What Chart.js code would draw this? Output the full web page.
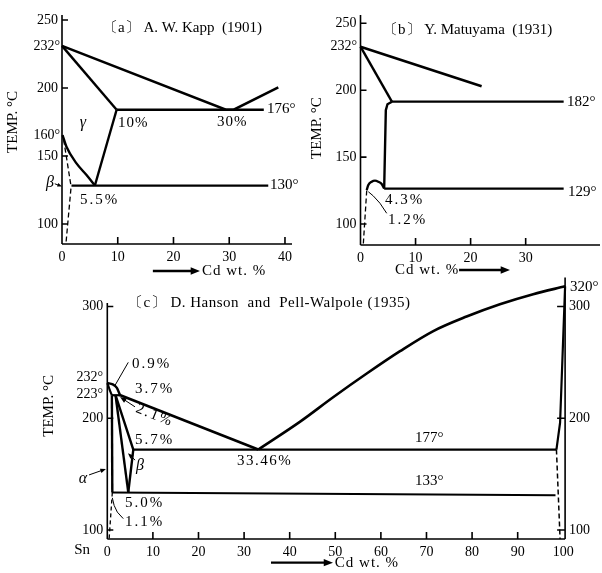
<!DOCTYPE html>
<html>
<head>
<meta charset="utf-8">
<script src="https://cdn.jsdelivr.net/npm/chart.js@4.4.1/dist/chart.umd.min.js"></script>
<style>
  html, body { margin: 0; padding: 0; background: #fff; }
  body { width: 602px; height: 573px; position: relative; overflow: hidden; }
  canvas { position: absolute; }
</style>
</head>
<body>
<canvas id="kappChart" width="300" height="285" style="left:0;top:0"></canvas>
<canvas id="matuChart" width="302" height="285" style="left:300px;top:0"></canvas>
<canvas id="hansonChart" width="602" height="308" style="left:0;top:265px"></canvas>
<script>
// Sn-Cd phase diagrams from three papers. Every point is [Cd wt.%, temp in °C]

// (a) A. W. Kapp (1901)
const kappXTicks = [0, 10, 20, 30, 40];
const kappYTicks = [100, 150, 200, 250];
const kappLiquidus = [[0, 231], [29.4, 184], [30.8, 184], [38.8, 200.5]];
const kappGammaTop = [[0, 231], [9.8, 184]];
const kappGammaRight = [[5.9, 128.3], [9.8, 184]];
const kappPeritectic = [[9.8, 184], [36.2, 184]];
const kappSolvus = [[0.1, 165.4], [0.8, 156.8], [2.6, 144.6], [4.4, 136], [5.9, 128.3]];
const kappEutectoid = [[1.7, 128.3], [37, 128.3]];
const kappDashUpper = [[0.3, 162], [1.6, 128.3]];
const kappDashLower = [[1.6, 126], [0.7, 85.3]];

// (b) Y. Matuyama (1931)
const matuXTicks = [0, 10, 20, 30];
const matuYTicks = [100, 150, 200, 250];
const matuLiquidus = [[0, 232.5], [22, 203]];
const matuGammaTop = [[0, 232.5], [5.7, 191.4]];
const matuGammaLeft = [[5.7, 191.4], [4.9, 189.5], [4.6, 185], [4.3, 126.5]];
const matuPeritectic = [[5.7, 191.4], [36.9, 191.4]];
const matuEutectoid = [[4.3, 126.5], [36.9, 126.5]];
const matuLoop = [[1.13, 125.4], [1.42, 129.1], [2.03, 131.6], [2.63, 132.4], [3.23, 131.6], [3.85, 129.9], [4.3, 126.5]];
const matuDash = [[1.13, 125], [0.5, 84.3]];

// (c) D. Hanson and Pell-Walpole (1935)
const hansonXTicks = [0, 10, 20, 30, 40, 50, 60, 70, 80, 90, 100];
const hansonYTicks = [100, 200, 300];
const hansonLens = [[0, 231.5], [1.2, 230.3], [2.1, 227.2], [2.6, 222.5], [2.8, 220.6]];
const hansonLiquidusSn = [[2.6, 221], [33.1, 172]];
const hansonLiquidusCd = [[33.1, 172], [42.3, 197], [49.6, 219], [56.9, 240], [64.2, 260], [71.5, 278], [78.8, 291], [86.1, 302], [93.4, 311], [100.4, 318]];
const hansonSolidusSn = [[0, 231.5], [0.35, 227.5], [0.7, 223.5], [1.0, 220.6]];
const hansonPeritectic = [[1.0, 220.6], [2.8, 220.6]];
const hansonAlphaSolvus = [[1.0, 220.6], [1.1, 133.6]];
const hansonAlphaDash = [[1.1, 133.6], [0.4, 92]];
const hansonBetaLeft = [[1.8, 220.6], [4.6, 133.6]];
const hansonBetaRight = [[1.8, 220.6], [5.7, 172], [4.6, 133.6]];
const hansonEutectic = [[5.7, 172], [98.5, 172]];
const hansonEutectoid = [[1.0, 133.6], [98.3, 131.2]];
const hansonSolidusCd = [[98.5, 172], [99.3, 196], [100.4, 318]];
const hansonSolvusCd = [[98.5, 172], [99.3, 92]];

const SERIF = '"Liberation Serif", "DejaVu Serif", serif';
const TXT = '15px ' + SERIF;
const GREEK = 'italic 16px ' + SERIF;

function seg(points, width, dash, smooth) {
    return {
        data: points.map(([x, y]) => ({ x, y })),
        showLine: true,
        borderColor: '#000',
        borderWidth: width,
        borderDash: dash || [],
        pointRadius: 0,
        fill: false,
        clip: false,
        tension: smooth ? 0.4 : 0,
        cubicInterpolationMode: smooth ? 'monotone' : 'default'
    };
}

function axis(min, max, ticks, size, extra) {
    const horizontal = !extra || !extra.position || extra.position === 'bottom';
    return Object.assign({
        type: 'linear',
        min: min,
        max: max,
        afterBuildTicks: s => { s.ticks = ticks.map(v => ({ value: v })); },
        afterFit: s => { if (horizontal) s.height = size; else s.width = size; },
        grid: { display: false, drawTicks: false },
        border: { display: false },
        ticks: {
            color: '#000',
            font: { family: SERIF, size: 14 },
            padding: horizontal ? 5 : 4,
            autoSkip: false,
            maxRotation: 0
        }
    }, extra || {});
}

// draws axis lines, inward tick marks, leaders, arrows and labels
function sketch(o) {
    return {
        id: 'sketch',
        afterDraw(chart) {
            const ctx = chart.ctx;
            const sx = chart.scales.x, sy = chart.scales.y;
            const X = v => sx.getPixelForValue(v);
            const Y = v => sy.getPixelForValue(v);
            ctx.save();
            ctx.strokeStyle = '#000';
            ctx.fillStyle = '#000';

            ctx.lineWidth = 1.6;
            ctx.beginPath();
            ctx.moveTo(X(sx.min), Y(o.leftAxis[0]));
            ctx.lineTo(X(sx.min), Y(o.leftAxis[1]));
            ctx.moveTo(X(o.baseAxis[0]), Y(sy.min));
            ctx.lineTo(X(o.baseAxis[1]), Y(sy.min));
            if (o.rightAxis) {
                ctx.moveTo(X(sx.max), Y(o.rightAxis[0]));
                ctx.lineTo(X(sx.max), Y(o.rightAxis[1]));
            }
            o.xMarks.forEach(v => { ctx.moveTo(X(v), Y(sy.min)); ctx.lineTo(X(v), Y(sy.min) - 7); });
            o.yMarks.forEach(v => { ctx.moveTo(X(sx.min), Y(v)); ctx.lineTo(X(sx.min) + 6, Y(v)); });
            (o.rMarks || []).forEach(v => { ctx.moveTo(X(sx.max), Y(v)); ctx.lineTo(X(sx.max) - 8, Y(v)); });
            ctx.stroke();

            ctx.lineWidth = 1;
            (o.leaders || []).forEach(pts => {
                ctx.beginPath();
                pts.forEach(([x, y], i) => i ? ctx.lineTo(X(x), Y(y)) : ctx.moveTo(X(x), Y(y)));
                ctx.stroke();
            });

            (o.arrows || []).forEach(a => {
                const x1 = X(a.from[0]), y1 = Y(a.from[1]), x2 = X(a.to[0]), y2 = Y(a.to[1]);
                const ang = Math.atan2(y2 - y1, x2 - x1), h = a.head || 6;
                ctx.lineWidth = a.w || 1;
                ctx.beginPath();
                ctx.moveTo(x1, y1);
                ctx.lineTo(x2 - Math.cos(ang) * h * 0.6, y2 - Math.sin(ang) * h * 0.6);
                ctx.stroke();
                ctx.beginPath();
                ctx.moveTo(x2, y2);
                ctx.lineTo(x2 - h * Math.cos(ang - 0.38), y2 - h * Math.sin(ang - 0.38));
                ctx.lineTo(x2 - h * Math.cos(ang + 0.38), y2 - h * Math.sin(ang + 0.38));
                ctx.closePath();
                ctx.fill();
            });

            ctx.textBaseline = 'middle';
            (o.texts || []).forEach(t => {
                ctx.save();
                ctx.font = t.font || TXT;
                ctx.textAlign = t.align || 'left';
                ctx.letterSpacing = t.ls || '0px';
                ctx.translate(X(t.x), Y(t.y));
                if (t.rot) ctx.rotate(t.rot * Math.PI / 180);
                ctx.fillText(t.text, 0, 0);
                ctx.restore();
            });
            ctx.restore();
        }
    };
}

const baseOptions = {
    responsive: false,
    animation: false,
    plugins: { legend: { display: false }, tooltip: { enabled: false } }
};

// (a)
new Chart(document.getElementById('kappChart'), {
    type: 'scatter',
    data: {
        datasets: [
            seg(kappLiquidus, 2.6),
            seg(kappGammaTop, 2.4),
            seg(kappGammaRight, 2.4),
            seg(kappPeritectic, 2.4),
            seg(kappSolvus, 2.4, null, true),
            seg(kappEutectoid, 2.2),
            seg(kappDashUpper, 1.3, [5, 3]),
            seg(kappDashLower, 1.3, [5, 3])
        ]
    },
    options: Object.assign({}, baseOptions, {
        layout: { padding: { left: 22, right: 8, top: 15, bottom: 16 } },
        scales: {
            x: axis(0, 41.26, kappXTicks, 25),
            y: axis(85.3, 253.7, kappYTicks, 40, { position: 'left' })
        }
    }),
    plugins: [sketch({
        leftAxis: [85.3, 253.7], baseAxis: [0, 41.26],
        xMarks: [10, 20, 30, 40], yMarks: kappYTicks,
        arrows: [
            { from: [-1.3, 129.6], to: [0, 127.6], head: 5 },
            { from: [16.3, 65.4], to: [24.75, 65.4], w: 2.4, head: 10 }
        ],
        texts: [
            { text: '〔a〕 A. W. Kapp  (1901)', x: 7.35, y: 244.1 },
            { text: '232°', x: -0.36, y: 230.4, align: 'right', font: '14px ' + SERIF },
            { text: '160°', x: -0.36, y: 165.4, align: 'right', font: '14px ' + SERIF },
            { text: 'β', x: -2.15, y: 130.1, align: 'center', font: GREEK },
            { text: 'γ', x: 3.77, y: 174.3, align: 'center', font: GREEK },
            { text: '10%', x: 10.04, y: 174.3, ls: '1px' },
            { text: '30%', x: 27.8, y: 175, ls: '1px' },
            { text: '176°', x: 36.77, y: 184.3 },
            { text: '130°', x: 37.3, y: 128.7 },
            { text: '5.5%', x: 3.23, y: 117.6, ls: '2px' },
            { text: 'TEMP. °C', x: -8.79, y: 175, align: 'center', rot: -90 },
            { text: 'Cd wt. %', x: 25.1, y: 65.4, ls: '1px' }
        ]
    })]
});

// (b)
new Chart(document.getElementById('matuChart'), {
    type: 'scatter',
    data: {
        datasets: [
            seg(matuLiquidus, 2.6),
            seg(matuGammaTop, 2.4),
            seg(matuGammaLeft, 2.4, null, false),
            seg(matuPeritectic, 2.2),
            seg(matuEutectoid, 2.2),
            seg(matuLoop, 2.4, null, true),
            seg(matuDash, 1.3, [5, 3])
        ]
    },
    options: Object.assign({}, baseOptions, {
        layout: { padding: { left: 20.5, right: 2, top: 15, bottom: 15 } },
        scales: {
            x: axis(0, 43.5, matuXTicks, 25),
            y: axis(84.3, 256.2, matuYTicks, 40, { position: 'left' })
        }
    }),
    plugins: [sketch({
        leftAxis: [84.3, 256.2], baseAxis: [0, 43.5],
        xMarks: [10, 20, 30], yMarks: matuYTicks,
        leaders: [[[4.76, 108], [3.54, 115.5], [2.32, 121], [1.42, 124.1]]],
        arrows: [
            { from: [17.9, 65.6], to: [27.15, 65.6], w: 2.4, head: 10 }
        ],
        texts: [
            { text: '〔b〕 Y. Matuyama  (1931)', x: 4.09, y: 245 },
            { text: '232°', x: -0.64, y: 232.5, align: 'right', font: '14px ' + SERIF },
            { text: '182°', x: 37.5, y: 191.4 },
            { text: '129°', x: 37.68, y: 124.1 },
            { text: '4.3%', x: 4.45, y: 117.9, ls: '2px' },
            { text: '1.2%', x: 4.99, y: 103, ls: '2px' },
            { text: 'TEMP. °C', x: -7.95, y: 171.7, align: 'center', rot: -90 },
            { text: 'Cd wt. %', x: 6.26, y: 65.6, ls: '1px' }
        ]
    })]
});

// (c)
new Chart(document.getElementById('hansonChart'), {
    type: 'scatter',
    data: {
        datasets: [
            seg(hansonLens, 2.4, null, true),
            seg(hansonLiquidusSn, 2.6),
            seg(hansonLiquidusCd, 2.6, null, true),
            seg(hansonSolidusSn, 2.2, null, true),
            seg(hansonPeritectic, 2.2),
            seg(hansonAlphaSolvus, 2.4),
            seg(hansonAlphaDash, 1.3, [4, 3]),
            seg(hansonBetaLeft, 2.4),
            seg(hansonBetaRight, 2.4),
            seg(hansonEutectic, 2.2),
            seg(hansonEutectoid, 2),
            seg(hansonSolidusCd, 2.2),
            seg(hansonSolvusCd, 1.5, [5, 3])
        ]
    },
    options: Object.assign({}, baseOptions, {
        layout: { padding: { left: 67.3, right: 2.9, top: 8.8, bottom: 9 } },
        scales: {
            x: axis(0, 100.4, hansonXTicks, 25),
            y: axis(91.97, 326, hansonYTicks, 40, { position: 'left' }),
            yr: axis(91.97, 326, hansonYTicks, 34, { position: 'right' })
        }
    }),
    plugins: [sketch({
        leftAxis: [91.97, 303], baseAxis: [0, 100.4], rightAxis: [91.97, 326],
        xMarks: [10, 20, 30, 40, 50, 60, 70, 80, 90], yMarks: hansonYTicks, rMarks: hansonYTicks,
        leaders: [
            [[4.6, 250], [1.69, 229.4]],
            [[3.5, 110.2], [2.2, 116], [1.5, 122], [1.1, 128.8]]
        ],
        arrows: [
            { from: [6.07, 210.2], to: [2.8, 219], head: 7 },
            { from: [6.1, 162.5], to: [4.54, 168.7], head: 6 },
            { from: [-4.0, 149.3], to: [-0.3, 154.6], head: 6 },
            { from: [35.9, 70.8], to: [49.5, 70.8], w: 2.4, head: 10 }
        ],
        texts: [
            { text: '〔c〕 D. Hanson  and  Pell-Walpole (1935)', x: 4.54, y: 303, ls: '0.5px' },
            { text: '232°', x: -0.94, y: 236.7, align: 'right', font: '14px ' + SERIF },
            { text: '223°', x: -0.94, y: 221.4, align: 'right', font: '14px ' + SERIF },
            { text: '0.9%', x: 5.42, y: 248.5, ls: '2px' },
            { text: '3.7%', x: 6.07, y: 226.4, ls: '2px' },
            { text: '2.1%', x: 10.4, y: 202.5, align: 'center', rot: 22, ls: '2px' },
            { text: '5.7%', x: 6.07, y: 180.8, ls: '2px' },
            { text: 'β', x: 7.17, y: 157.3, align: 'center', font: GREEK },
            { text: 'α', x: -5.33, y: 145.8, align: 'center', font: GREEK },
            { text: '5.0%', x: 3.88, y: 123.7, ls: '2px' },
            { text: '1.1%', x: 3.88, y: 107.2, ls: '2px' },
            { text: '33.46%', x: 28.44, y: 161.7, ls: '1.5px' },
            { text: '177°', x: 67.48, y: 182.3 },
            { text: '133°', x: 67.48, y: 144 },
            { text: '320°', x: 101.5, y: 317.7 },
            { text: 'Sn', x: -3.79, y: 82.3, align: 'right' },
            { text: 'TEMP. °C', x: -12.8, y: 211.1, align: 'center', rot: -90 },
            { text: 'Cd wt. %', x: 49.9, y: 70.8, ls: '1px' }
        ]
    })]
});
</script>
</body>
</html>
